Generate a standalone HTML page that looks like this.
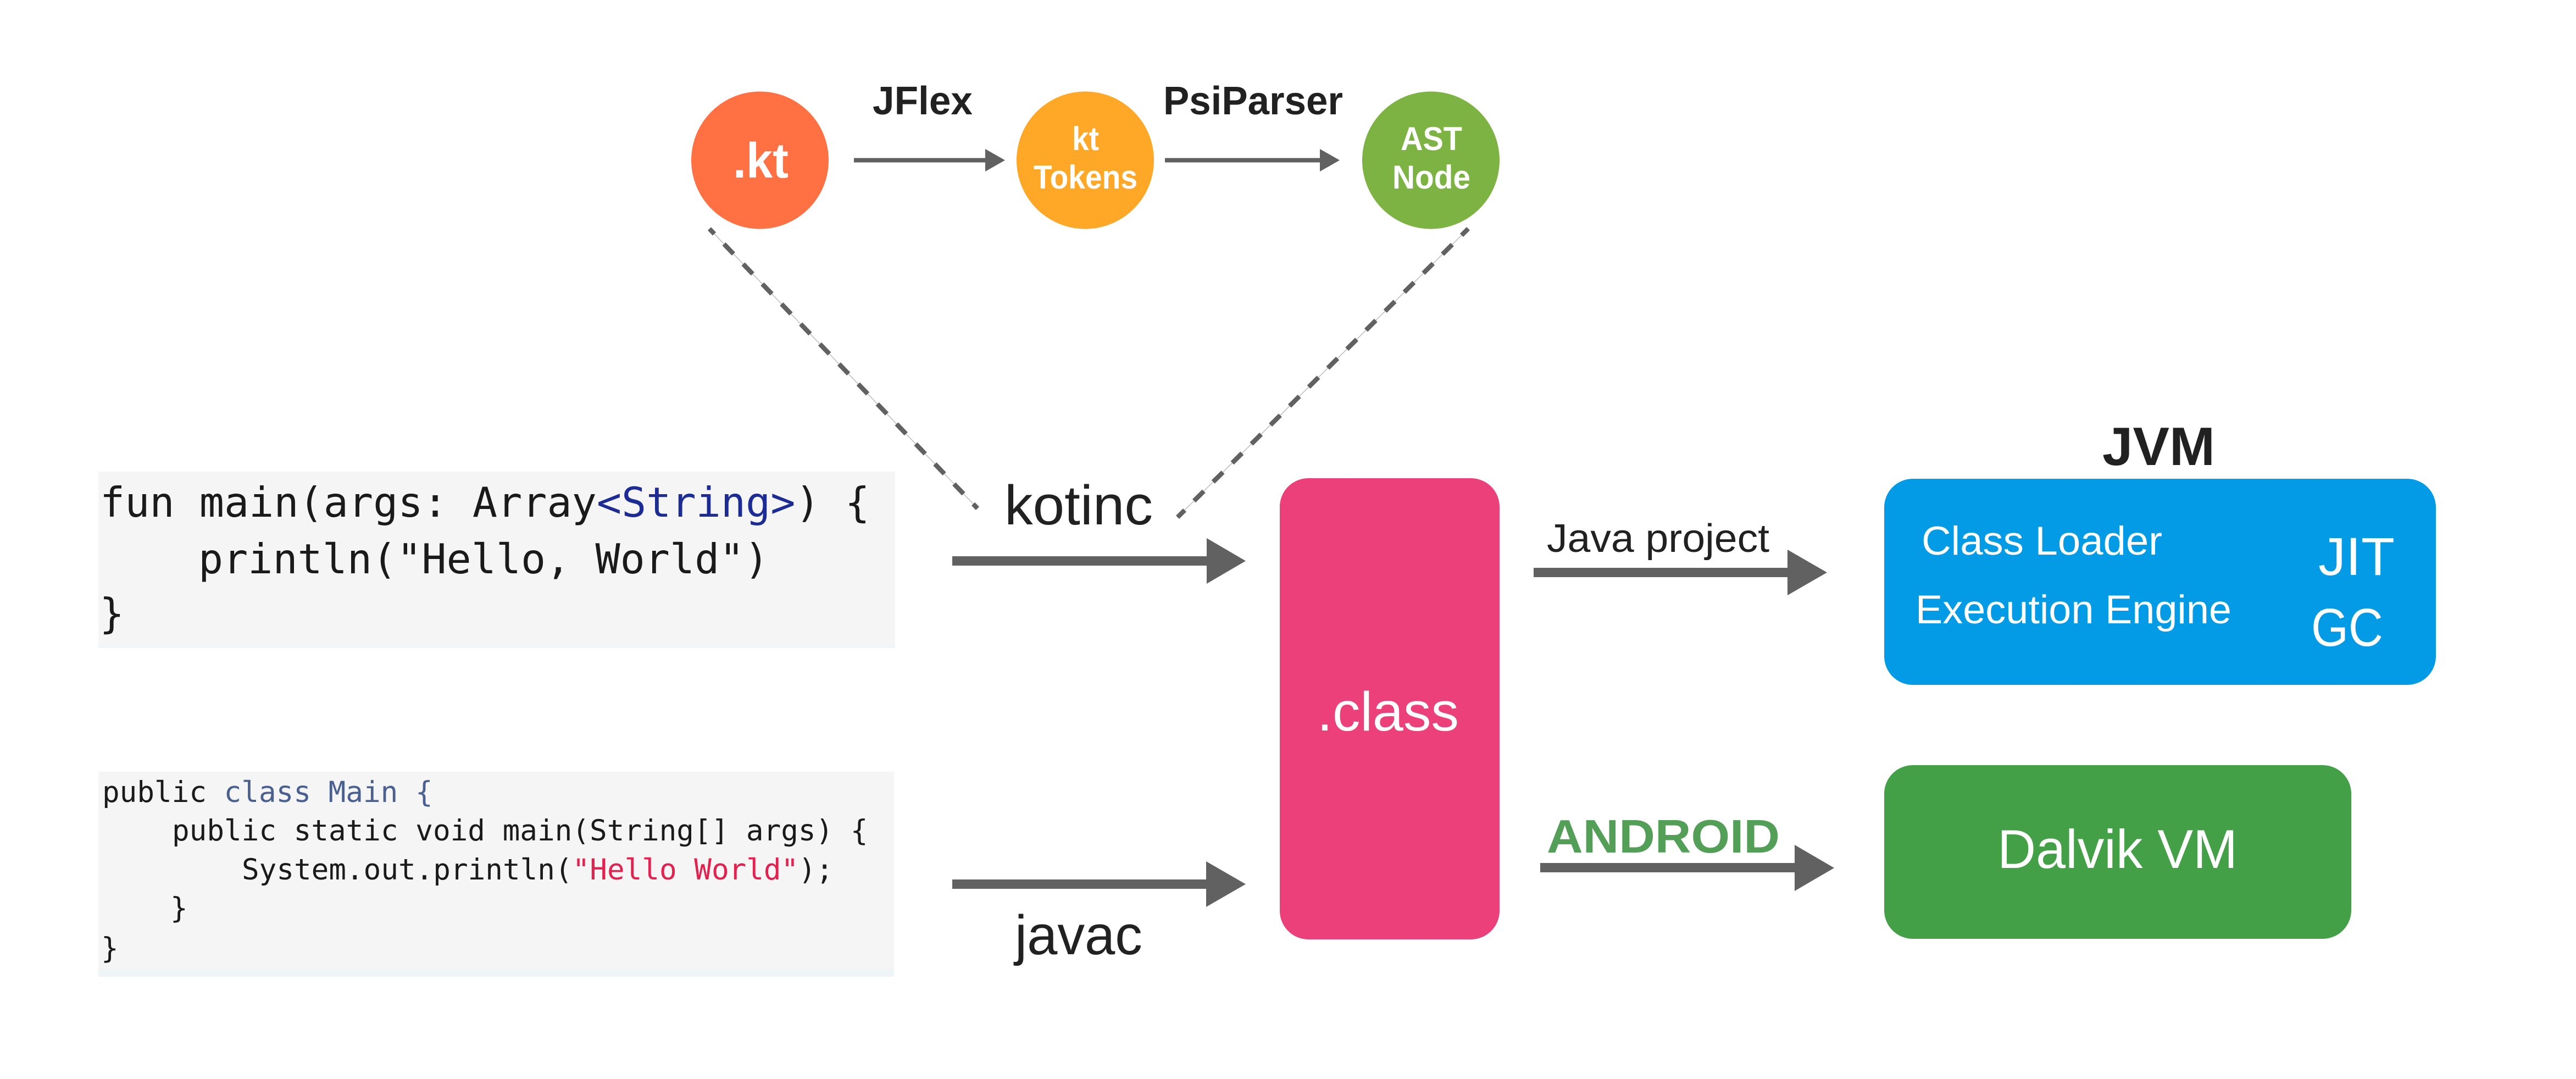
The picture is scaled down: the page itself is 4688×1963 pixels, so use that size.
<!DOCTYPE html>
<html><head><meta charset="utf-8"><style>
html,body{margin:0;padding:0;background:#fff}
svg{display:block}
text{font-family:"Liberation Sans",sans-serif;white-space:pre}
.m{font-family:"DejaVu Sans Mono","Liberation Mono",monospace;fill:#1a1a1a}
</style></head><body>
<svg xmlns="http://www.w3.org/2000/svg" width="4688" height="1963" viewBox="0 0 4688 1963">
<rect width="4688" height="1963" fill="#fff"/>

<!-- code boxes -->
<rect x="179" y="858" width="1450" height="321" fill="#f5f5f5"/>
<rect x="179" y="1172" width="1450" height="7" fill="#f1f5f7"/>
<rect x="179" y="1404" width="1448" height="373" fill="#f5f5f5"/>
<rect x="179" y="1763" width="1448" height="14" fill="#eff4f7"/>

<g class="mono">
<text class="m" x="182" y="940" font-size="75" textLength="1401" lengthAdjust="spacingAndGlyphs">fun main(args: Array<tspan fill="#1c2c94">&lt;String&gt;</tspan>) {</text>
<text class="m" x="361" y="1043" font-size="75">println("Hello, World")</text>
<text class="m" x="181" y="1142" font-size="75">}</text>

<text class="m" x="186" y="1459" font-size="52.6">public <tspan fill="#4a6090">class Main {</tspan></text>
<text class="m" x="313" y="1529" font-size="52.6">public static void main(String[] args) {</text>
<text class="m" x="440" y="1600" font-size="52.6">System.out.println(<tspan fill="#e2214f">"Hello World"</tspan>);</text>
<text class="m" x="310" y="1670" font-size="52.6">}</text>
<text class="m" x="184" y="1743" font-size="52.6">}</text>
</g>

<!-- dashed connectors -->
<g fill="none">
<line x1="1291" y1="416.2" x2="1779" y2="925" stroke="#bdbdbd" stroke-width="1.5"/>
<line x1="2672" y1="416" x2="2143" y2="941" stroke="#bdbdbd" stroke-width="1.5"/>
<line x1="1291" y1="416.2" x2="1779" y2="925" stroke="#616161" stroke-width="8.5" stroke-dasharray="25 25.4" stroke-dashoffset="12"/>
<line x1="2672" y1="416" x2="2143" y2="941" stroke="#616161" stroke-width="8.5" stroke-dasharray="25 24" stroke-dashoffset="8"/>
</g>

<!-- circles -->
<circle cx="1383" cy="291.5" r="125" fill="#ff7043"/>
<circle cx="1975" cy="291.5" r="125" fill="#ffa726"/>
<circle cx="2604" cy="291.5" r="125" fill="#7cb342"/>

<text x="1334" y="323" font-size="90" font-weight="700" fill="#fff" textLength="101" lengthAdjust="spacingAndGlyphs">.kt</text>
<text x="1951" y="273" font-size="60" font-weight="700" fill="#fff" textLength="49" lengthAdjust="spacingAndGlyphs">kt</text>
<text x="1881" y="343" font-size="60" font-weight="700" fill="#fff" textLength="189" lengthAdjust="spacingAndGlyphs">Tokens</text>
<text x="2549" y="273" font-size="60" font-weight="700" fill="#fff" textLength="112" lengthAdjust="spacingAndGlyphs">AST</text>
<text x="2534" y="343" font-size="60" font-weight="700" fill="#fff" textLength="142" lengthAdjust="spacingAndGlyphs">Node</text>

<text x="1588" y="208" font-size="72" font-weight="700" fill="#212121" textLength="182" lengthAdjust="spacingAndGlyphs">JFlex</text>
<text x="2117" y="208" font-size="72" font-weight="700" fill="#212121" textLength="327" lengthAdjust="spacingAndGlyphs">PsiParser</text>

<!-- arrows -->
<g fill="#616161">
<polygon points="1554,287.5 1793,287.5 1793,271 1829,291.5 1793,312 1793,295.5 1554,295.5"/>
<polygon points="2120,287.5 2402,287.5 2402,271 2438,291.5 2402,312 2402,295.5 2120,295.5"/>
<polygon points="1733,1012 2196,1012 2196,979 2267,1020.5 2196,1062 2196,1029 1733,1029"/>
<polygon points="1733,1600 2195,1600 2195,1567 2267,1608.5 2195,1650 2195,1617 1733,1617"/>
<polygon points="2791,1033 3253,1033 3253,1000 3325,1041.5 3253,1083 3253,1050 2791,1050"/>
<polygon points="2803,1570 3266,1570 3266,1537 3338,1579 3266,1621 3266,1587 2803,1587"/>
</g>

<!-- class -->
<rect x="2329" y="870" width="400" height="839" rx="52" ry="52" fill="#ec407a"/>
<text x="2397" y="1329" font-size="100" fill="#fff" textLength="258" lengthAdjust="spacingAndGlyphs">.class</text>

<text x="1828" y="954" font-size="101" fill="#212121" textLength="270" lengthAdjust="spacingAndGlyphs">kotinc</text>
<text x="1847" y="1736" font-size="101" fill="#212121" textLength="232" lengthAdjust="spacingAndGlyphs">javac</text>
<text x="2815" y="1004" font-size="72" fill="#212121" textLength="405" lengthAdjust="spacingAndGlyphs">Java project</text>

<text x="2815" y="1551" font-size="85" font-weight="700" fill="#539f58" textLength="424" lengthAdjust="spacingAndGlyphs">ANDROID</text>

<!-- JVM -->
<text x="3826" y="846" font-size="98" font-weight="700" fill="#212121" textLength="205" lengthAdjust="spacingAndGlyphs">JVM</text>
<rect x="3429" y="871" width="1004" height="375" rx="52" ry="52" fill="#039be5"/>
<text x="3497" y="1009" font-size="73" fill="#fff" textLength="438" lengthAdjust="spacingAndGlyphs">Class Loader</text>
<text x="3486" y="1134" font-size="73" fill="#fff" textLength="575" lengthAdjust="spacingAndGlyphs">Execution Engine</text>
<text x="4219" y="1046" font-size="97" fill="#fff" textLength="139" lengthAdjust="spacingAndGlyphs">JIT</text>
<text x="4206" y="1175" font-size="97" fill="#fff" textLength="131" lengthAdjust="spacingAndGlyphs">GC</text>

<!-- Dalvik -->
<rect x="3429" y="1392" width="850" height="316" rx="52" ry="52" fill="#43a047"/>
<text x="3635" y="1579" font-size="99" fill="#fff" textLength="437" lengthAdjust="spacingAndGlyphs">Dalvik VM</text>
</svg>
</body></html>
